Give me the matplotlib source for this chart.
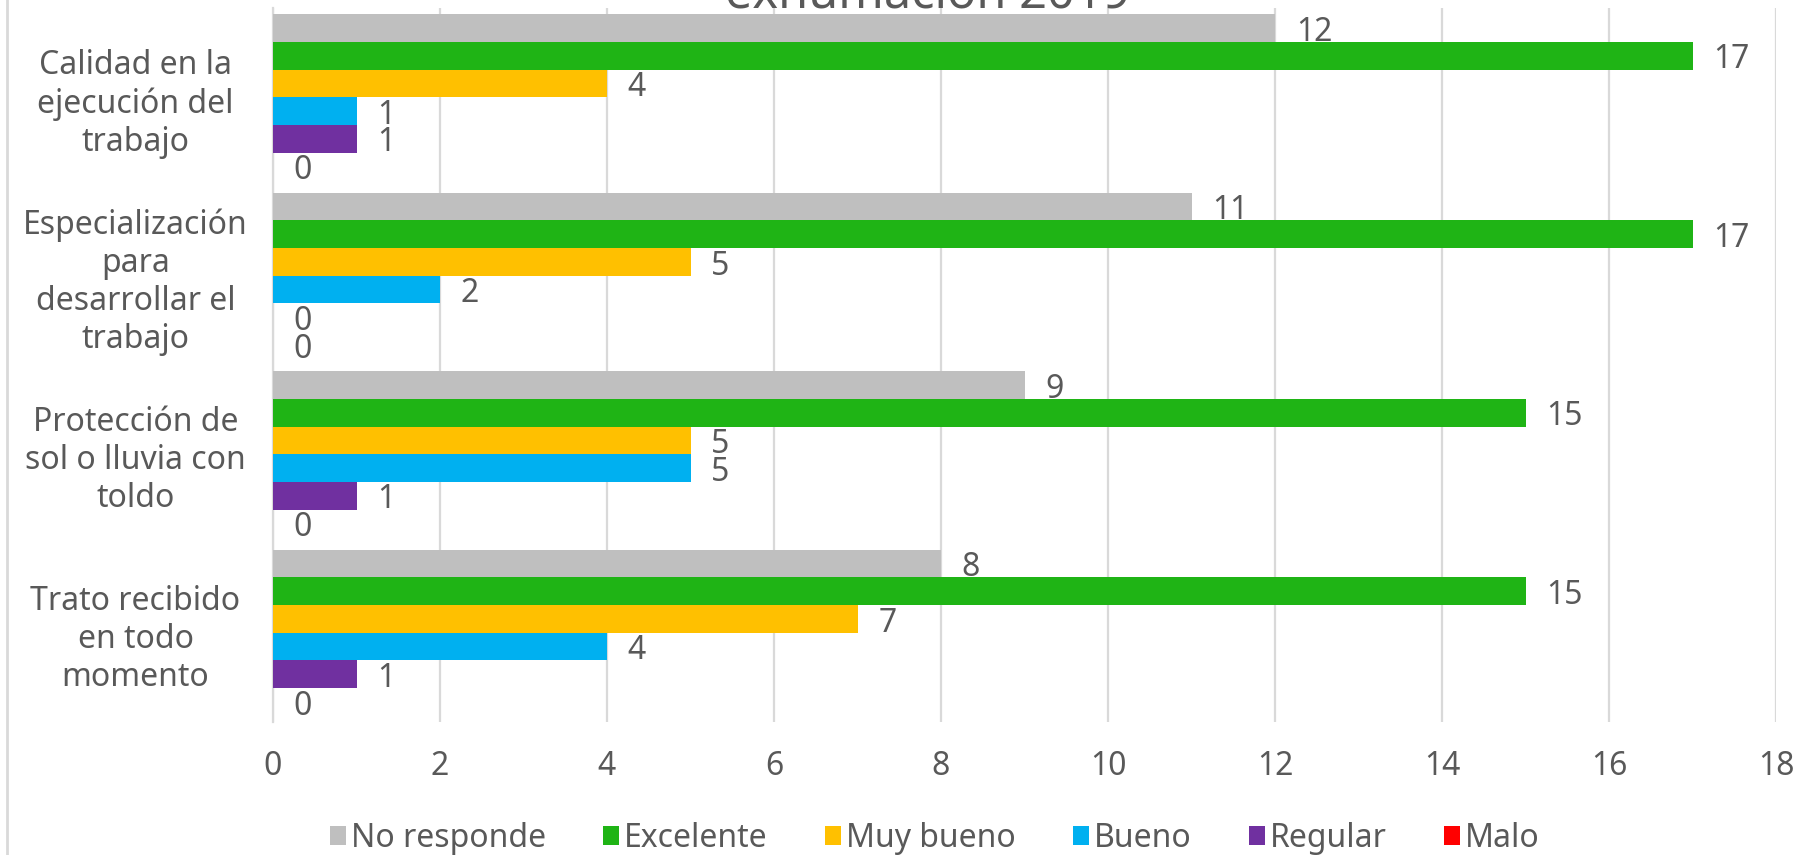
import matplotlib
matplotlib.use("Agg")
import matplotlib.pyplot as plt
from matplotlib.lines import Line2D
from matplotlib.patches import Patch

plt.rcParams['font.family'] = ['Noto Sans', 'DejaVu Sans']

categories = [
    "Trato recibido\nen todo\nmomento",
    "Protección de\nsol o lluvia con\ntoldo",
    "Especialización\npara\ndesarrollar el\ntrabajo",
    "Calidad en la\nejecución del\ntrabajo",
]
series_names = ["No responde", "Excelente", "Muy bueno", "Bueno", "Regular", "Malo"]
no_responde = [8, 9, 11, 12]
excelente = [15, 15, 17, 17]
muy_bueno = [7, 5, 5, 4]
bueno = [4, 5, 2, 1]
regular = [1, 1, 0, 1]
malo = [0, 0, 0, 0]
series_values = [no_responde, excelente, muy_bueno, bueno, regular, malo]
colors = ["#BFBFBF", "#1FB415", "#FFC000", "#00B0F0", "#7030A0", "#FF0000"]
xticks = [0, 2, 4, 6, 8, 10, 12, 14, 16, 18]
title = "exhumación 2019"

TXT = "#595959"
FS = 23

fig = plt.figure(figsize=(18.05, 8.55), dpi=100)
ax = fig.add_axes([273/1805, 1-722/855, (1776-273)/1805, (722-8)/855])

w = 0.155
n = len(series_values)
for j, (name, vals, col) in enumerate(zip(series_names, series_values, colors)):
    ys = [i + (n/2 - 0.5 - j) * w for i in range(len(categories))]
    ax.barh(ys, vals, height=w, color=col, linewidth=0, label=name, zorder=3)
    for y, v in zip(ys, vals):
        ax.annotate(str(v), (v, y), xytext=(15, -3), textcoords="offset points",
                    ha="left", va="center", fontsize=FS, color=TXT, zorder=4)

ax.set_xlim(0, 18)
ax.set_ylim(-0.5, len(categories) - 0.5)
ax.set_xticks(xticks)
ax.set_xticklabels([str(t) for t in xticks])
ax.set_yticks(range(len(categories)))
ax.set_yticklabels(categories)
for lab in ax.get_yticklabels():
    lab.set_horizontalalignment("center")
    lab.set_multialignment("center")
    lab.set_linespacing(1.2)
ax.tick_params(axis="y", length=0, pad=99, labelsize=FS, labelcolor=TXT)
ax.tick_params(axis="x", length=0, pad=20, labelsize=FS, labelcolor=TXT)
ax.grid(axis="x", color="#D9D9D9", linewidth=1.6, zorder=0)
ax.set_axisbelow(True)
for s in ["top", "right", "bottom"]:
    ax.spines[s].set_visible(False)
ax.spines["left"].set_color("#D9D9D9")
ax.spines["left"].set_linewidth(1.6)

fig.text(928/1805, 1-8/855, title, ha="center", va="baseline", fontsize=35, color=TXT)

handles = [Patch(facecolor=c, edgecolor="none") for c in colors]
fig.legend(handles, series_names, loc="center", bbox_to_anchor=(935/1805, 1-838/855),
           ncol=6, frameon=False, fontsize=FS, labelcolor=TXT,
           handlelength=0.5, handleheight=0.55, handletextpad=0.15,
           columnspacing=1.8, borderpad=0)

fig.add_artist(Line2D([7/1805, 7/1805], [0, 1], transform=fig.transFigure,
                      color="#D9D9D9", linewidth=2))

fig.savefig("out.png", dpi=100)
